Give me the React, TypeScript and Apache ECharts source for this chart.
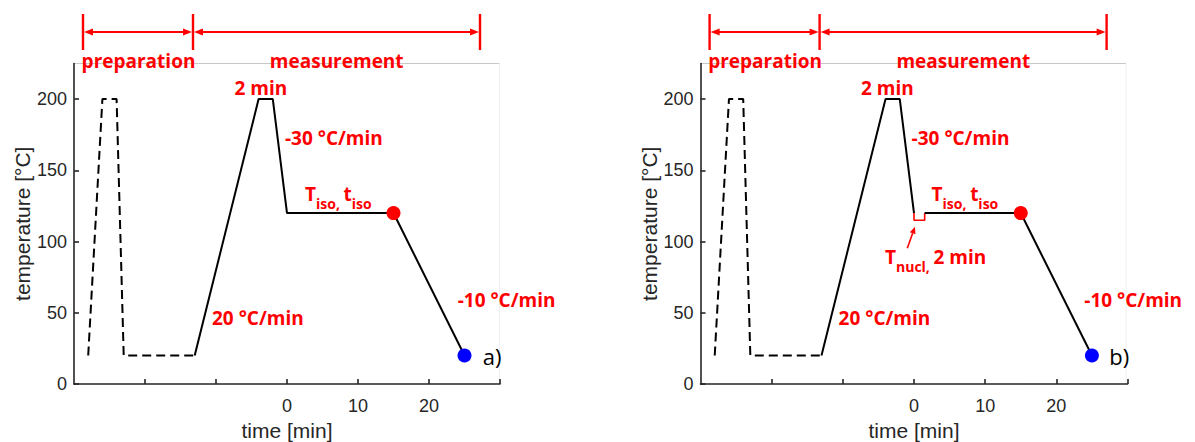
import React, { useEffect, useRef } from "react";
import * as echarts from "echarts";

// ---- data (time in min, temperature in °C) ----
const xTickValues = [-20, -10, 0, 10, 20, 30];
const xTickLabels = [0, 10, 20];
const yTickValues = [0, 50, 100, 150, 200];

const prepA = [[-28, 20], [-26, 200], [-24, 200], [-23, 20], [-13, 20]];
const measA = [[-13, 20], [-4, 200], [-2, 200], [0, 120], [15, 120], [25, 20]];

const prepB = [[-28, 20], [-26, 200], [-24, 200], [-23, 20], [-13, 20]];
const measB1 = [[-13, 20], [-4, 200], [-2, 200], [0, 120]];
const nuclB = [[0, 120], [0, 115], [1.5, 115], [1.5, 120]];
const measB2 = [[1.5, 120], [15, 120], [25, 20]];

const isoEnd = [[15, 120]];
const finalPoint = [[25, 20]];

// ---- style constants ----
const RED = "#ff0000";
const INK = "#262626";
const RED_FONT = '"Open Sans", "Noto Sans", sans-serif';
const AXIS_FONT = '"Liberation Sans", Arial, sans-serif';

const GRID_TOP = 63.5;
const GRID_H = 320.5;
const GRID_LEFT = [74, 700.5];
const GRID_W = [426, 427];
const PANEL_DX = 626.6;

function redText(x: number, y: number, text: string, align = "left") {
  return {
    type: "text",
    x,
    y,
    silent: true,
    style: {
      text,
      fill: RED,
      font: `bold 19px ${RED_FONT}`,
      textAlign: align,
      textVerticalAlign: "middle",
    },
  };
}

function subText(x: number, y: number, text: string) {
  return {
    type: "text",
    x,
    y,
    silent: true,
    style: {
      text,
      fill: RED,
      textAlign: "left",
      textVerticalAlign: "top",
      rich: {
        m: {
          fontSize: 19,
          fontWeight: "bold",
          fontFamily: RED_FONT,
          fill: RED,
          color: RED,
          lineHeight: 24,
          verticalAlign: "top",
        },
        s: {
          fontSize: 14,
          fontWeight: "bold",
          fontFamily: RED_FONT,
          fill: RED,
          color: RED,
          lineHeight: 16,
          padding: [12, 0, 0, 0],
          verticalAlign: "top",
        },
      },
    },
  };
}

function hArrowHead(x: number, y: number, dir: number) {
  // dir = -1 points left, +1 points right; x is the tip
  const L = 9;
  const W = 3.5;
  return {
    type: "polygon",
    silent: true,
    shape: {
      points: [
        [x, y],
        [x - dir * L, y - W],
        [x - dir * L, y + W],
      ],
    },
    style: { fill: RED },
  };
}

function redLine(x1: number, y1: number, x2: number, y2: number, w = 2.2) {
  return {
    type: "line",
    silent: true,
    shape: { x1, y1, x2, y2 },
    style: { stroke: RED, lineWidth: w },
  };
}

function panelGraphics(dx: number, label: string) {
  const bx = [83 + dx, 193 + dx, 480 + dx];
  const ay = 32;
  const els: any[] = [
    // frame top / right (light)
    {
      type: "line",
      silent: true,
      shape: { x1: GRID_LEFT[0] + dx, y1: GRID_TOP, x2: 499.5 + dx, y2: GRID_TOP },
      style: { stroke: "#c8c8c8", lineWidth: 1 },
    },
    {
      type: "line",
      silent: true,
      shape: { x1: 499.5 + dx, y1: GRID_TOP, x2: 499.5 + dx, y2: GRID_TOP + GRID_H },
      style: { stroke: "#f0f0f0", lineWidth: 1 },
    },
    // brackets
    redLine(bx[0], 14, bx[0], 50, 2.4),
    redLine(bx[1], 14, bx[1], 50, 2.4),
    redLine(bx[2], 14, bx[2], 50, 2.4),
    redLine(bx[0] + 4, ay, bx[1] - 4, ay, 2),
    redLine(bx[1] + 4, ay, bx[2] - 4, ay, 2),
    hArrowHead(bx[0] + 1, ay, -1),
    hArrowHead(bx[1] - 1, ay, 1),
    hArrowHead(bx[1] + 1, ay, -1),
    hArrowHead(bx[2] - 1, ay, 1),
    redText(138.5 + dx, 61, "preparation", "center"),
    redText(336.7 + dx, 61, "measurement", "center"),
    redText(260.8 + dx, 88, "2 min", "center"),
    redText(285 + dx, 138, "-30 °C/min"),
    redText(212 + dx, 318, "20 °C/min"),
    redText(457.7 + dx, 299.5, "-10 °C/min"),
    subText(305 + dx, 184, "{m|T}{s|iso, }{m|t}{s|iso}"),
    {
      type: "text",
      x: 482.7 + dx,
      y: 356,
      silent: true,
      style: {
        text: label,
        fill: "#000",
        font: `22px ${RED_FONT}`,
        textAlign: "left",
        textVerticalAlign: "middle",
      },
    },
  ];
  return els;
}

function nuclGraphics() {
  const tipX = 915;
  const tipY = 226.7;
  const tailX = 907.3;
  const tailY = 248.3;
  const ang = Math.atan2(tipY - tailY, tipX - tailX);
  const L = 7;
  const W = 3;
  const bx = tipX - L * Math.cos(ang);
  const by = tipY - L * Math.sin(ang);
  const px = -Math.sin(ang) * W;
  const py = Math.cos(ang) * W;
  return [
    redLine(tailX, tailY, bx, by, 1.6),
    {
      type: "polygon",
      silent: true,
      shape: { points: [[tipX, tipY], [bx + px, by + py], [bx - px, by - py]] },
      style: { fill: RED },
    },
    subText(885, 247.5, "{m|T}{s|nucl, }{m|2 min}"),
  ];
}

function xAxisCfg(gridIndex: number) {
  return {
    gridIndex,
    type: "value",
    min: -30,
    max: 30,
    interval: 10,
    axisLine: { show: true, onZero: false, lineStyle: { color: INK, width: 1.6 } },
    axisTick: {
      show: true,
      inside: true,
      length: 5,
      customValues: xTickValues,
      lineStyle: { color: INK, width: 1.6 },
    },
    axisLabel: {
      customValues: xTickLabels,
      formatter: (v: number) => (xTickLabels.includes(v) ? String(v) : ""),
      color: INK,
      fontSize: 18,
      fontFamily: AXIS_FONT,
      margin: 13,
    },
    splitLine: { show: false },
    name: "time [min]",
    nameLocation: "middle",
    nameGap: 34,
    nameTextStyle: { color: INK, fontSize: 21, fontFamily: AXIS_FONT },
  };
}

function yAxisCfg(gridIndex: number) {
  return {
    gridIndex,
    type: "value",
    min: 0,
    max: 225,
    interval: 50,
    axisLine: { show: true, onZero: false, lineStyle: { color: INK, width: 1.6 } },
    axisTick: {
      show: true,
      inside: true,
      length: 5,
      customValues: yTickValues,
      lineStyle: { color: INK, width: 1.6 },
    },
    axisLabel: {
      customValues: yTickValues,
      formatter: (v: number) => (yTickValues.includes(v) ? String(v) : ""),
      color: INK,
      fontSize: 18,
      fontFamily: AXIS_FONT,
      margin: 7,
    },
    splitLine: { show: false },
    name: "temperature [°C]",
    nameLocation: "middle",
    nameGap: 41,
    nameTextStyle: { color: INK, fontSize: 21, fontFamily: AXIS_FONT },
  };
}

function lineSeries(data: number[][], idx: number, opts: any = {}) {
  return {
    type: "line",
    data,
    xAxisIndex: idx,
    yAxisIndex: idx,
    symbol: "none",
    showSymbol: false,
    silent: true,
    clip: false,
    lineStyle: { color: "#000", width: 2, ...(opts.lineStyle || {}) },
  };
}

function dotSeries(data: number[][], idx: number, color: string) {
  return {
    type: "scatter",
    data,
    xAxisIndex: idx,
    yAxisIndex: idx,
    symbol: "circle",
    symbolSize: 14,
    silent: true,
    itemStyle: { color, opacity: 1 },
    z: 5,
  };
}

export default function App() {
  const ref = useRef<HTMLDivElement>(null);
  useEffect(() => {
    if (!ref.current) return;
    const chart = echarts.init(ref.current, null, { renderer: "svg" });
    const option: any = {
      animation: false,
      backgroundColor: "#ffffff",
      grid: [
        {
          left: GRID_LEFT[0],
          top: GRID_TOP,
          width: GRID_W[0],
          height: GRID_H,
          containLabel: false,
          outerBoundsMode: "none",
        },
        {
          left: GRID_LEFT[1],
          top: GRID_TOP,
          width: GRID_W[1],
          height: GRID_H,
          containLabel: false,
          outerBoundsMode: "none",
        },
      ],
      xAxis: [xAxisCfg(0), xAxisCfg(1)],
      yAxis: [yAxisCfg(0), yAxisCfg(1)],
      series: [
        lineSeries(prepA, 0, { lineStyle: { type: [9, 5] } }),
        lineSeries(measA, 0),
        dotSeries(isoEnd, 0, RED),
        dotSeries(finalPoint, 0, "#0000ff"),
        lineSeries(prepB, 1, { lineStyle: { type: [9, 5] } }),
        lineSeries(measB1, 1),
        lineSeries(nuclB, 1, { lineStyle: { color: RED, width: 1.6 } }),
        lineSeries(measB2, 1),
        dotSeries(isoEnd, 1, RED),
        dotSeries(finalPoint, 1, "#0000ff"),
      ],
      graphic: [...panelGraphics(0, "a)"), ...panelGraphics(PANEL_DX, "b)"), ...nuclGraphics()],
    };
    chart.setOption(option);
    return () => chart.dispose();
  }, []);
  return (
    <div
      ref={ref}
      style={{ position: "fixed", left: 0, top: 0, width: 1195, height: 442, background: "#fff" }}
    />
  );
}
